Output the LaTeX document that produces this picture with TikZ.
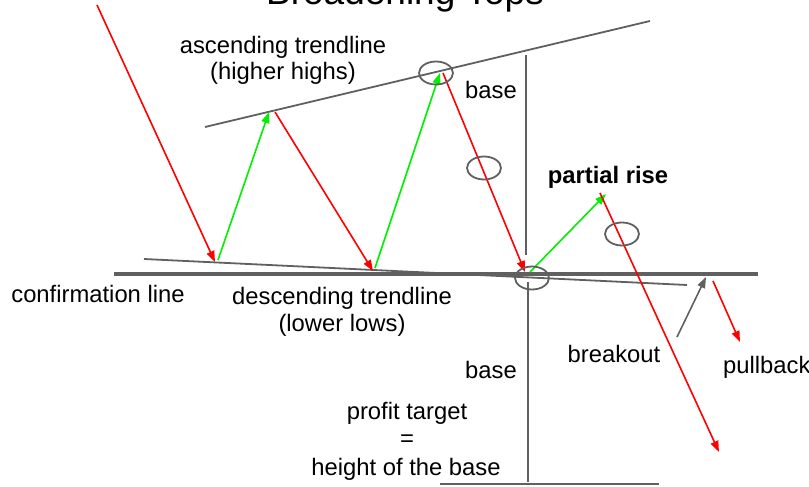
\documentclass[tikz,border=0pt]{standalone}
\usepackage{fontspec}
\setmainfont{Liberation Sans}
\usetikzlibrary{arrows.meta,shapes.geometric}
\definecolor{lgray}{HTML}{606060}
\definecolor{lred}{HTML}{FF0000}
\definecolor{lgreen}{HTML}{00F000}
\tikzset{
  lbl/.style={anchor=base,inner sep=0pt,font=\fontsize{23.8}{28}\selectfont},
  redarr/.style={draw=lred,line width=1.6pt,-{Triangle[length=11pt,width=8pt]}},
  greenarr/.style={draw=lgreen,line width=1.6pt,-{Triangle[length=11pt,width=8pt]}},
  grayarr/.style={draw=lgray,line width=1.6pt,-{Triangle[length=11pt,width=8pt]}},
  redline/.style={draw=lred,line width=1.6pt},
  trend/.style={draw=lgray,line width=1.8pt},
  confl/.style={draw=lgray,line width=3.6pt},
  ring/.style={draw=lgray,line width=1.8pt,ellipse,minimum width=34pt,minimum height=23pt,inner sep=0pt},
}
\begin{document}
\begin{tikzpicture}[x=1pt,y=-1pt]
\useasboundingbox (0,0) rectangle (809,487);
\begin{scope}
\clip (0,0) rectangle (809,487);
% title
\node[lbl,font=\fontsize{37}{40}\selectfont] (title) at (405,5) {Broadening Tops};
% trendlines
\coordinate (at1) at (205,127); \coordinate (at2) at (650,21);
\draw[trend] (at1) -- (at2);
\coordinate (cf1) at (114,274); \coordinate (cf2) at (758,274);
\draw[confl] (cf1) -- (cf2);
\coordinate (dt1) at (144,259); \coordinate (dt2) at (687,285);
\draw[trend] (dt1) -- (dt2);
% base lines
\coordinate (bu1) at (526,55); \coordinate (bu2) at (526,255);
\draw[trend] (bu1) -- (bu2);
\coordinate (bl1) at (528,282); \coordinate (bl2) at (528,482);
\draw[trend] (bl1) -- (bl2);
\coordinate (bh1) at (440,484); \coordinate (bh2) at (659,484);
\draw[trend] (bh1) -- (bh2);
% price path points
\coordinate (p0) at (97,5);
\coordinate (p1) at (215,262);
\coordinate (p1b) at (218,260);
\coordinate (p2) at (269,112);
\coordinate (p2b) at (275,112);
\coordinate (p3) at (373,271);
\coordinate (p3b) at (375,268);
\coordinate (p4) at (440,73);
\coordinate (p4b) at (443,73);
\coordinate (p5) at (525,272);
\coordinate (p5b) at (530,272);
\coordinate (p6) at (606,194);
\coordinate (p6b) at (600,193);
\coordinate (p7) at (719,452);
\draw[redarr] (p0) -- (p1);
\draw[greenarr] (p1b) -- (p2);
\draw[redarr] (p2b) -- (p3);
\draw[greenarr] (p3b) -- (p4);
\draw[redarr] (p4b) -- (p5);
\draw[greenarr] (p5b) -- (p6);
\draw[redarr] (p6b) -- (p7);
% breakout and pullback
\coordinate (bk1) at (677,337); \coordinate (bk2) at (706,277);
\draw[grayarr] (bk1) -- (bk2);
\coordinate (pb1) at (713,281); \coordinate (pb2) at (740,342);
\draw[redarr] (pb1) -- (pb2);
% ellipses
\node[ring] (e1) at (436,73) {};
\node[ring] (e2) at (484,168) {};
\node[ring] (e3) at (532,278) {};
\node[ring] (e4) at (622,234) {};
% labels
\node[lbl] (asc1) at (283,54) {ascending trendline};
\node[lbl] (asc2) at (283,80) {(higher highs)};
\node[lbl] (base1) at (491,99) {base};
\node[lbl,font=\fontsize{23.8}{28}\selectfont\bfseries] (pr) at (608,183) {partial rise};
\node[lbl] (conf) at (98,302) {confirmation line};
\node[lbl] (desc1) at (342,304) {descending trendline};
\node[lbl] (desc2) at (342,331) {(lower lows)};
\node[lbl] (base2) at (491,378) {base};
\node[lbl] (pt1) at (407,419) {profit target};
\node[lbl] (pt2) at (407,446) {=};
\node[lbl] (pt3) at (406,475) {height of the base};
\node[lbl] (brk) at (614,362) {breakout};
\node[lbl,anchor=base west] (pull) at (723,373) {pullback};
\end{scope}
\end{tikzpicture}
\end{document}
